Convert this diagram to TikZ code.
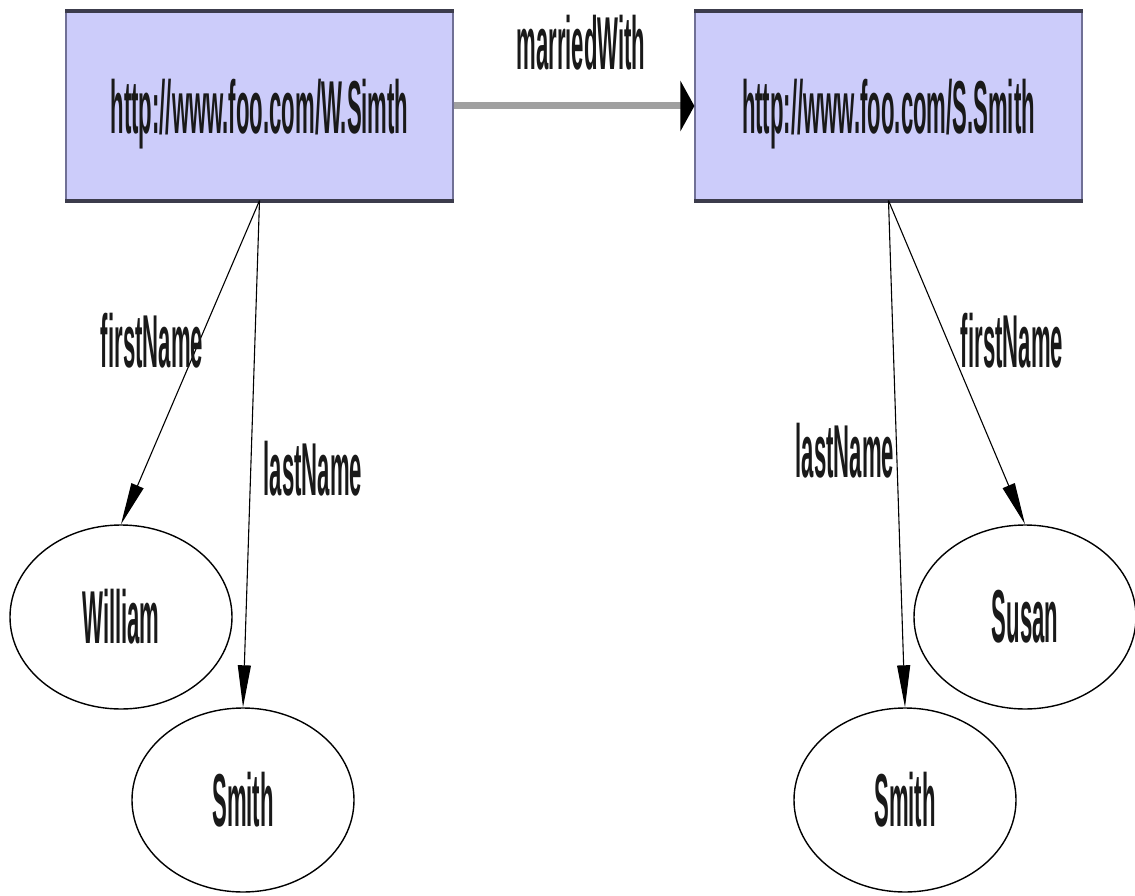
\documentclass[tikz,border=0pt]{standalone}
\usepackage{fontspec}
\setmainfont{Liberation Sans}
\usetikzlibrary{shapes.geometric,arrows.meta}
\definecolor{resfill}{RGB}{204,204,250}
\definecolor{resside}{RGB}{112,112,150}
\definecolor{resedge}{RGB}{60,60,76}
\definecolor{relline}{RGB}{160,160,160}
% condensed sans text
\newcommand{\cond}[1]{\scalebox{0.295}[1]{#1}}
\begin{document}
\begin{tikzpicture}[x=1pt,y=-1pt,
  txt/.style={font=\fontsize{75}{80}\selectfont\bfseries, inner sep=0pt, text=black!90},
  resource/.style={txt, rectangle, fill=resfill, draw=resside, line width=1.2pt,
    minimum width=387pt, minimum height=188pt, text depth=0pt},
  literal/.style={txt, ellipse, draw=black, line width=1.4pt, fill=white,
    minimum width=222pt, minimum height=184pt},
  edgelabel/.style={txt, anchor=base},
  prop/.style={draw=black, line width=1.1pt, -{Triangle[length=42pt,width=13pt]}},
  rel/.style={draw=relline, line width=7pt, -{Triangle[length=14pt,width=50pt,black]}},
  band/.style={draw=resedge, line width=4pt}]
\useasboundingbox (0,0) rectangle (1135,896);

% resources
\node[resource] (w) at (259.5,106) {\cond{http://www.foo.com/W.Simth}};
\node[resource] (s) at (888.5,106) {\cond{http://www.foo.com/S.Smith}};
\foreach \r in {w,s}{
  \draw[band] (\r.north west) -- (\r.north east);
  \draw[band] (\r.south west) -- (\r.south east);
}

% literals
\node[literal] (wfirst) at (121,617) {\cond{William}};
\node[literal] (wlast)  at (243,800) {\cond{Smith}};
\node[literal] (sfirst) at (1025,617) {\cond{Susan}};
\node[literal] (slast)  at (905,800) {\cond{Smith}};

% relation between the resources
\draw[rel] (w.east) -- (s.west);
\node[edgelabel] (lmarried) at (581,70) {\cond{marriedWith}};

% properties
\draw[prop] (w.south) -- (wfirst.north);
\draw[prop] (w.south) -- (wlast.north);
\draw[prop] (s.south) -- (sfirst.north);
\draw[prop] (s.south) -- (slast.north);

\node[edgelabel] (lwfirst) at (152,367) {\cond{firstName}};
\node[edgelabel] (lwlast)  at (313,495) {\cond{lastName}};
\node[edgelabel] (lsfirst) at (1012,367) {\cond{firstName}};
\node[edgelabel] (lslast)  at (845,477) {\cond{lastName}};
\end{tikzpicture}
\end{document}
